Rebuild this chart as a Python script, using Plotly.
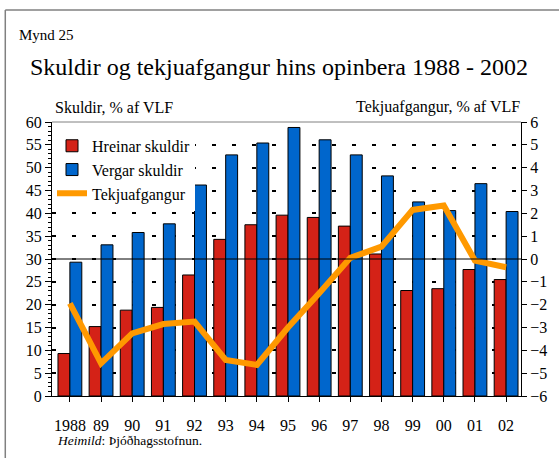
import plotly.graph_objects as go

years = ["1988", "89", "90", "91", "92", "93", "94", "95", "96", "97", "98", "99", "00", "01", "02"]
hreinar = [9.3, 15.2, 18.8, 19.4, 26.5, 34.3, 37.5, 39.6, 39.1, 37.2, 31.1, 23.1, 23.5, 27.7, 25.5]
vergar = [29.3, 33.1, 35.8, 37.7, 46.2, 52.8, 55.4, 58.8, 56.1, 52.8, 48.2, 42.5, 40.6, 46.5, 40.4]
tekju = [-1.94, -4.57, -3.26, -2.85, -2.74, -4.42, -4.64, -3.0, -1.5, 0.05, 0.54, 2.15, 2.34, -0.07, -0.36]

FONT = "Liberation Serif, Times New Roman, serif"
RED = "#D42217"
BLUE = "#0066CC"
ORANGE = "#FF9900"

fig = go.Figure()
fig.add_trace(go.Bar(x=years, y=hreinar, name="Hreinar skuldir", marker=dict(color=RED, line=dict(color="black", width=1)),
                     legendgroup="a", yaxis="y"))
fig.add_trace(go.Bar(x=years, y=vergar, name="Vergar skuldir", marker=dict(color=BLUE, line=dict(color="black", width=1)),
                     legendgroup="b", yaxis="y"))
fig.add_trace(go.Scatter(x=years, y=tekju, name="Tekjuafgangur", mode="lines", line=dict(color=ORANGE, width=6),
                         legendgroup="c", yaxis="y2"))

fig.update_layout(
    width=559, height=458,
    margin=dict(l=52, r=35, t=122, b=62),
    paper_bgcolor="white", plot_bgcolor="white",
    font=dict(family=FONT, size=16, color="black"),
    barmode="group", bargap=0.235, bargroupgap=0.0,
    showlegend=True,
    legend=dict(x=0.0, y=0.975, xanchor="left", yanchor="top", bgcolor="white",
                font=dict(family=FONT, size=16), traceorder="grouped", tracegroupgap=0,
                itemwidth=30),
    xaxis=dict(type="category", range=[-0.574, 14.478], showline=True, linecolor="black", linewidth=1,
               ticks="outside", ticklen=5, tickcolor="black", showgrid=False,
               ticklabelstandoff=10,
               tickfont=dict(family=FONT, size=16)),
    yaxis=dict(range=[0, 60], dtick=5, showline=True, linecolor="black", linewidth=1,
               ticks="outside", ticklen=6, tickcolor="black",
               minor=dict(dtick=1, ticks="outside", ticklen=3, tickcolor="black", showgrid=False),
               showgrid=True, gridcolor="black", gridwidth=2, griddash="4px,16px",
               zeroline=False, tickfont=dict(family=FONT, size=16)),
    yaxis2=dict(range=[-6, 6], dtick=1, overlaying="y", side="right", showline=True,
                linecolor="black", linewidth=1, ticks="outside", ticklen=5, tickcolor="black",
                showgrid=False, zeroline=False, tickfont=dict(family=FONT, size=16)),
)

# zero line of right axis drawn over bars
fig.add_shape(type="line", xref="paper", yref="y2", x0=0, x1=1, y0=0, y1=0,
              line=dict(color="black", width=1), layer="above")
# top frame
fig.add_shape(type="line", xref="paper", yref="paper", x0=0, x1=1, y0=1, y1=1,
              line=dict(color="#808080", width=1), layer="above")
# outer border (left and top)
fig.add_shape(type="line", xref="paper", yref="paper", x0=-0.0996, x1=-0.0996, y0=1.409, y1=-0.3,
              line=dict(color="#808080", width=1.5), layer="above")
fig.add_shape(type="line", xref="paper", yref="paper", x0=-0.0996, x1=1.2, y0=1.409, y1=1.409,
              line=dict(color="#808080", width=1.5), layer="above")

ann = [
    dict(text="Mynd 25", x=-0.0742, y=1.3175, xanchor="left", yanchor="middle", font=dict(size=15)),
    dict(text="Skuldir og tekjuafgangur hins opinbera 1988 - 2002", x=0.483, y=1.2007,
         xanchor="center", yanchor="middle", font=dict(size=24)),
    dict(text="Skuldir, % af VLF", x=0.002, y=1.0547, xanchor="left", yanchor="middle", font=dict(size=16)),
    dict(text="Tekjuafgangur, % af VLF", x=1.002, y=1.0547, xanchor="right", yanchor="middle", font=dict(size=16)),
    dict(text="<i>Heimild</i>: Þjóðhagsstofnun.", x=0.006, y=-0.164, xanchor="left", yanchor="middle",
         font=dict(size=13.5)),
]
for a in ann:
    a.update(xref="paper", yref="paper", showarrow=False)
    a["font"]["family"] = FONT
    a["font"]["color"] = "black"
    fig.add_annotation(**a)

fig.write_html("out.html", config={"displayModeBar": False},
               post_script="document.body.style.margin='0';document.body.style.overflow='hidden';")
